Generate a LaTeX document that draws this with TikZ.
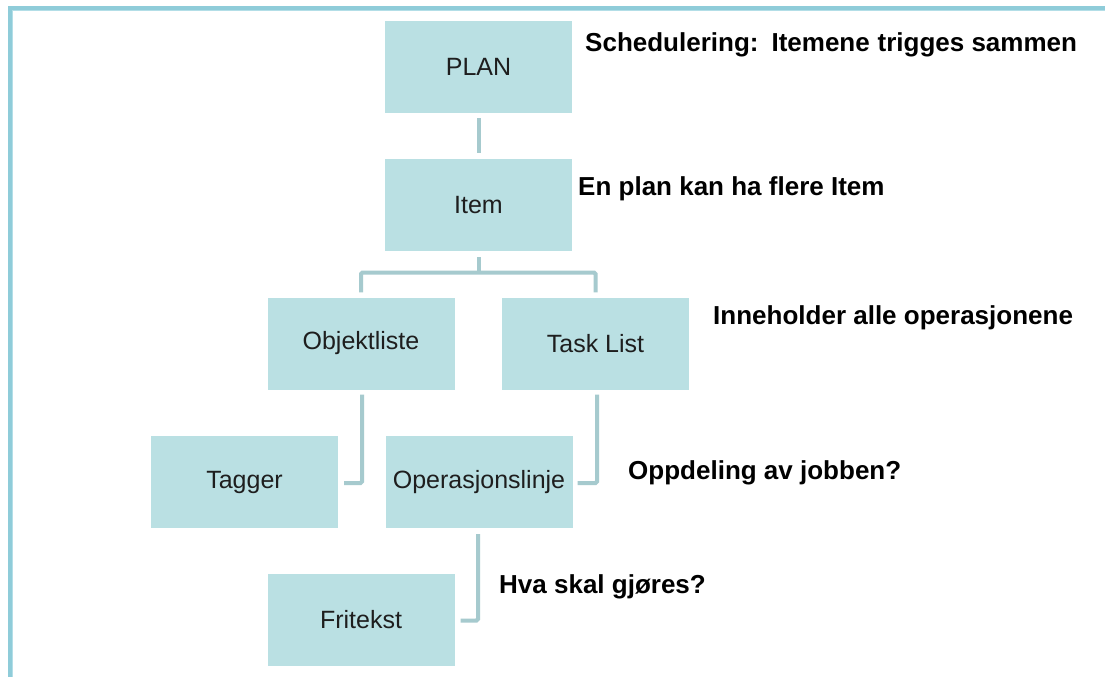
\documentclass[tikz,border=0pt]{standalone}
\usepackage{fontspec}
\setmainfont{Liberation Sans}
\definecolor{boxfill}{HTML}{BAE0E3}
\definecolor{linkcol}{HTML}{A6CACE}
\definecolor{frameout}{HTML}{8FCCD9}
\definecolor{framein}{HTML}{B3DEE7}
\definecolor{labelcol}{HTML}{1E1E1E}
\tikzset{
  unit/.style={draw=none, fill=boxfill, minimum width=187pt, minimum height=92pt,
    inner sep=0pt, text=labelcol, font=\fontsize{25}{29}\selectfont},
  link/.style={draw=linkcol, line width=4pt, rounded corners=1.5pt},
  note/.style={anchor=base west, inner sep=0pt, font=\bfseries\fontsize{26}{30}\selectfont}
}
\begin{document}
\begin{tikzpicture}[x=1pt, y=-1pt]
\useasboundingbox (0,0) rectangle (1105,677);
\fill[white] (0,0) rectangle (1105,677);
% slide frame along the top and left edges
\fill[frameout] (8,6) rectangle (1105,11);
\fill[frameout] (8,6) rectangle (13,677);
\fill[framein] (12,10) rectangle (1105,11);
\fill[framein] (12,10) rectangle (13,677);

% boxes
\node[unit] (plan)  at (478.5,67)   {PLAN};
\node[unit] (item)  at (478.5,205)  {Item};
\node[unit] (obj)   at (361,343.5)  {Objektliste};
\node[unit] (task)  at (595.5,343.5){Task List};
\node[unit] (tag)   at (244.5,482)  {Tagger};
\node[unit] (oper)  at (479,482)    {Operasjonslinje};
\node[unit] (fri)   at (361,619.5)  {Fritekst};

% connectors
\draw[link] ([yshift=-5pt]plan.south) -- ([yshift=6pt]item.north);
\coordinate (fork) at (478.5,272.5);
\draw[link] ([yshift=-6pt]item.south) -- (fork);
\draw[link] ([yshift=5pt]obj.north) |- (fork) -| ([yshift=5pt]task.north);
\draw[link] ([xshift=1pt,yshift=-5pt]obj.south) |- ([xshift=6pt,yshift=-1pt]tag.east);
\draw[link] ([xshift=1.5pt,yshift=-5pt]task.south) |- ([xshift=5pt,yshift=-1pt]oper.east);
\draw[link] ([xshift=-1pt,yshift=-6pt]oper.south) |- ([xshift=6pt,yshift=-1pt]fri.east);

% annotations
\node[note] (n1) at (585,52)  {Schedulering:\hspace{0.5em}Itemene\hspace{0.3em}trigges sammen};
\node[note] (n2) at (578,195) {En plan kan ha flere Item};
\node[note] (n3) at (713,324) {Inneholder alle operasjonene};
\node[note] (n4) at (628,479) {Oppdeling av jobben?};
\node[note] (n5) at (499,593) {Hva skal gjøres?};
\end{tikzpicture}
\end{document}
